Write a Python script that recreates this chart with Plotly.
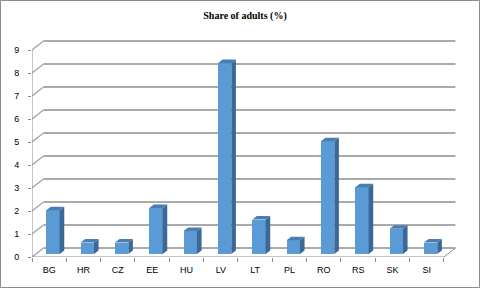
import plotly.graph_objects as go

categories = ["BG", "HR", "CZ", "EE", "HU", "LV", "LT", "PL", "RO", "RS", "SK", "SI"]
values = [1.9, 0.5, 0.5, 2.0, 1.0, 8.3, 1.5, 0.6, 4.9, 2.9, 1.1, 0.5]
y_ticks = list(range(0, 10))
title_text = "Share of adults (%)"

# 3D-look parameters (in data units)
DX, DY = 0.335, 0.39          # depth offset of the back wall
D0, D1 = 0.33, 0.73           # bar front/back depth fractions
BW = 0.39                     # bar width
FRONT = "#5B9BD5"
SIDE = "#3B6896"
TOP = "#4A7DB0"
GRID = "#AAAAAA"
AXIS = "#8C8C8C"

n = len(categories)
L, R, T, B = 32, 22, 40, 31
W, H = 480 - L - R, 288 - T - B
PXX, PXY = 34.33, 23.0
xr = [0, W / PXX]
yr = [0, H / PXY]

fig = go.Figure()

# front faces
xc = [i + 0.5 + D0 * DX for i in range(n)]
base = D0 * DY
fig.add_trace(go.Bar(x=xc, y=values, base=[base] * n, width=BW,
                     marker=dict(color=FRONT, line=dict(width=0)),
                     hoverinfo="skip", showlegend=False))

ddx, ddy = (D1 - D0) * DX, (D1 - D0) * DY
sx, sy, tx, ty = [], [], [], []
for c, v in zip(xc, values):
    l, r = c - BW / 2, c + BW / 2
    top = base + v
    sx += [r, r, r + ddx, r + ddx, r, None]
    sy += [base, top, top + ddy, base + ddy, base, None]
    tx += [l, r, r + ddx, l + ddx, l, None]
    ty += [top, top, top + ddy, top + ddy, top, None]
fig.add_trace(go.Scatter(x=sx, y=sy, fill="toself", fillcolor=SIDE, mode="lines",
                         line=dict(width=0, color=SIDE), hoverinfo="skip", showlegend=False))
fig.add_trace(go.Scatter(x=tx, y=ty, fill="toself", fillcolor=TOP, mode="lines",
                         line=dict(width=0, color=TOP), hoverinfo="skip", showlegend=False))
# invisible trace on overlay axis
fig.add_trace(go.Scatter(x=[0], y=[0], xaxis="x2", mode="markers",
                         marker=dict(opacity=0), hoverinfo="skip", showlegend=False))

shapes = []
for k in y_ticks:
    shapes.append(dict(type="line", x0=0, y0=k, x1=DX, y1=k + DY,
                       line=dict(color=GRID, width=1.5), layer="below"))
    shapes.append(dict(type="line", x0=DX, y0=k + DY, x1=n + DX, y1=k + DY,
                       line=dict(color=GRID, width=2), layer="below"))
# floor front and right edges, front y axis
shapes.append(dict(type="line", x0=0, y0=0, x1=n, y1=0, line=dict(color=AXIS, width=1), layer="below"))
shapes.append(dict(type="line", x0=n, y0=0, x1=n + DX, y1=DY, line=dict(color=AXIS, width=1), layer="below"))
shapes.append(dict(type="line", x0=0, y0=0, x1=0, y1=max(y_ticks), line=dict(color=AXIS, width=1), layer="below"))
# outer border
shapes.append(dict(type="rect", xref="paper", yref="paper",
                   x0=(0.5 - L) / W, x1=(479.5 - L) / W,
                   y0=(288 - B - 287.5) / H, y1=(288 - B - 0.5) / H,
                   line=dict(color=AXIS, width=1)))

fig.update_layout(
    width=480, height=288,
    margin=dict(l=L, r=R, t=T, b=B),
    paper_bgcolor="white", plot_bgcolor="rgba(0,0,0,0)",
    title=dict(text="<b>" + title_text + "</b>", x=0.5, xref="paper", y=1 - 15 / 288, yref="container",
               yanchor="middle", xanchor="center",
               font=dict(family="Liberation Serif", size=10, color="black")),
    font=dict(family="Liberation Sans", size=9, color="black"),
    xaxis=dict(range=xr, tickvals=[i + 0.5 for i in range(n)], ticktext=categories,
               ticks="", showgrid=False, zeroline=False, showline=False, ticklabelstandoff=6),
    xaxis2=dict(range=xr, overlaying="x", anchor="y", side="bottom", tickvals=list(range(n + 1)),
                ticks="outside", ticklen=4, tickcolor=AXIS, showticklabels=False,
                showgrid=False, zeroline=False, showline=False),
    yaxis=dict(range=yr, tickvals=y_ticks, ticks="outside", ticklen=3, tickcolor=AXIS,
               showgrid=False, zeroline=False, showline=False, ticklabelstandoff=7),
    shapes=shapes,
    bargap=0,
)
fig.write_html("out.html")
